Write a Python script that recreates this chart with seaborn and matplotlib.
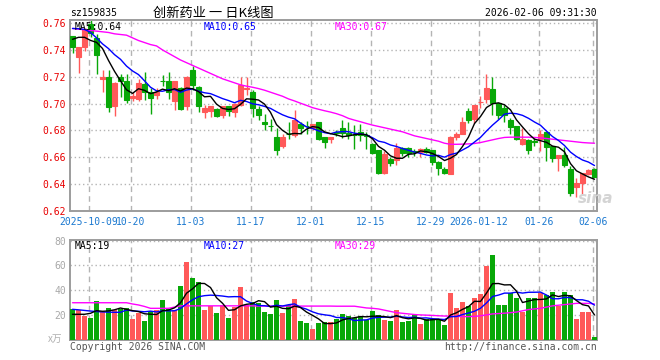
import numpy as np
import pandas as pd
import matplotlib
matplotlib.use("Agg")
import matplotlib.pyplot as plt
import seaborn as sns

# --- données (159835, K journalier) ---
opens = [0.7503, 0.7350, 0.7423, 0.7590, 0.7490, 0.7180, 0.7195, 0.6980, 0.7195, 0.7170,
         0.7043, 0.7035, 0.7145, 0.7090, 0.7065, 0.7170, 0.7170, 0.7020, 0.7113, 0.6980,
         0.7250, 0.7125, 0.6935, 0.6944, 0.6957, 0.6913, 0.6980, 0.6940, 0.6990, 0.7110,
         0.7088, 0.6957, 0.6865, 0.6836, 0.6752, 0.6683, 0.6775, 0.6765, 0.6850, 0.6835,
         0.6815, 0.6864, 0.6748, 0.6733, 0.6787, 0.6815, 0.6782, 0.6767, 0.6788, 0.6765,
         0.6700, 0.6653, 0.6481, 0.6585, 0.6583, 0.6670, 0.6673, 0.6645, 0.6640, 0.6665,
         0.6653, 0.6566, 0.6516, 0.6479, 0.6752, 0.6777, 0.6946, 0.6889, 0.7010, 0.7038,
         0.7106, 0.7003, 0.6970, 0.6877, 0.6832, 0.6698, 0.6727, 0.6718, 0.6735, 0.6785,
         0.6683, 0.6597, 0.6616, 0.6510, 0.6380, 0.6407, 0.6478, 0.6516]
highs = [0.7505, 0.7425, 0.7563, 0.7620, 0.7520, 0.7250, 0.7250, 0.7160, 0.7220, 0.7220,
         0.7090, 0.7180, 0.7235, 0.7115, 0.7115, 0.7212, 0.7237, 0.7170, 0.7125, 0.7205,
         0.7280, 0.7135, 0.6990, 0.6985, 0.6970, 0.6985, 0.6985, 0.7005, 0.7200, 0.7200,
         0.7100, 0.6985, 0.6920, 0.6886, 0.6815, 0.6775, 0.6864, 0.6950, 0.6865, 0.6868,
         0.6850, 0.6866, 0.6755, 0.6755, 0.6800, 0.6877, 0.6864, 0.6839, 0.6845, 0.6785,
         0.6705, 0.6655, 0.6645, 0.6605, 0.6707, 0.6678, 0.6678, 0.6665, 0.6668, 0.6675,
         0.6655, 0.6570, 0.6525, 0.6757, 0.6785, 0.6902, 0.6964, 0.6990, 0.7056, 0.7220,
         0.7195, 0.7005, 0.6990, 0.6890, 0.6836, 0.6815, 0.6735, 0.6745, 0.6802, 0.6790,
         0.6685, 0.6618, 0.6677, 0.6535, 0.6445, 0.6485, 0.6516, 0.6520]
lows = [0.7380, 0.7230, 0.7394, 0.7500, 0.7220, 0.7090, 0.6940, 0.6910, 0.7050, 0.7005,
        0.7020, 0.7020, 0.7030, 0.6925, 0.7035, 0.7130, 0.7035, 0.6950, 0.6950, 0.6950,
        0.7105, 0.6935, 0.6895, 0.6900, 0.6900, 0.6895, 0.6905, 0.6897, 0.6985, 0.7065,
        0.6902, 0.6875, 0.6800, 0.6796, 0.6615, 0.6670, 0.6733, 0.6755, 0.6770, 0.6775,
        0.6800, 0.6730, 0.6673, 0.6705, 0.6760, 0.6742, 0.6740, 0.6665, 0.6725, 0.6665,
        0.6625, 0.6474, 0.6478, 0.6533, 0.6541, 0.6607, 0.6604, 0.6610, 0.6605, 0.6630,
        0.6541, 0.6466, 0.6475, 0.6475, 0.6730, 0.6770, 0.6857, 0.6852, 0.6964, 0.7001,
        0.6914, 0.6885, 0.6865, 0.6772, 0.6730, 0.6695, 0.6628, 0.6685, 0.6645, 0.6570,
        0.6566, 0.6500, 0.6525, 0.6310, 0.6305, 0.6330, 0.6467, 0.6450]
closes = [0.7423, 0.7423, 0.7553, 0.7523, 0.7360, 0.7195, 0.6976, 0.7150, 0.7170, 0.7025,
          0.7060, 0.7150, 0.7090, 0.7045, 0.7090, 0.7165, 0.7090, 0.7165, 0.6962, 0.7197,
          0.7140, 0.6985, 0.6970, 0.6980, 0.6907, 0.6980, 0.6944, 0.7000, 0.7140, 0.7115,
          0.6965, 0.6915, 0.6847, 0.6832, 0.6658, 0.6752, 0.6770, 0.6877, 0.6820, 0.6830,
          0.6847, 0.6740, 0.6712, 0.6752, 0.6783, 0.6782, 0.6767, 0.6763, 0.6768, 0.6760,
          0.6633, 0.6483, 0.6621, 0.6558, 0.6670, 0.6632, 0.6633, 0.6638, 0.6665, 0.6640,
          0.6566, 0.6524, 0.6485, 0.6752, 0.6777, 0.6864, 0.6877, 0.6988, 0.7013, 0.7113,
          0.7003, 0.6912, 0.6915, 0.6825, 0.6740, 0.6740, 0.6658, 0.6712, 0.6770, 0.6680,
          0.6598, 0.6616, 0.6541, 0.6332, 0.6410, 0.6482, 0.6504, 0.6455]
volumes = [25.0, 24.2, 19.6, 18.0, 31.4, 22.3, 25.8, 24.1, 25.2, 25.8,
           17.2, 22.0, 15.4, 23.4, 24.5, 32.4, 24.7, 24.5, 43.7, 63.0,
           50.1, 46.6, 24.0, 27.5, 22.0, 27.8, 18.0, 26.5, 42.9, 28.5,
           30.5, 29.8, 22.7, 20.9, 32.1, 21.9, 28.1, 33.4, 15.2, 13.9,
           8.7, 13.9, 14.7, 14.7, 16.7, 20.9, 19.7, 17.7, 19.3, 15.8,
           23.2, 19.8, 16.0, 15.2, 24.1, 14.7, 15.2, 20.0, 12.9, 16.8,
           16.8, 16.8, 12.2, 37.8, 26.1, 30.4, 27.6, 33.9, 37.0, 59.8,
           68.5, 28.2, 28.2, 37.6, 34.1, 22.8, 34.1, 34.1, 38.1, 36.2,
           38.9, 27.7, 38.9, 36.2, 17.0, 22.5, 22.5, 2.7]

# MA30 lue directement (l'historique avant la fenêtre n'est pas visible)
ma30_price = [0.7560, 0.7555, 0.7550, 0.7545, 0.7540, 0.7535, 0.7530, 0.7520, 0.7515, 0.7510,
              0.7490, 0.7470, 0.7455, 0.7440, 0.7430, 0.7400, 0.7375, 0.7350, 0.7325, 0.7305,
              0.7285, 0.7265, 0.7245, 0.7225, 0.7205, 0.7185, 0.7170, 0.7155, 0.7140, 0.7130,
              0.7122, 0.7112, 0.7100, 0.7085, 0.7070, 0.7055, 0.7035, 0.7020, 0.7003, 0.6987,
              0.6970, 0.6958, 0.6947, 0.6937, 0.6925, 0.6910, 0.6890, 0.6877, 0.6865, 0.6852,
              0.6840, 0.6830, 0.6820, 0.6810, 0.6800, 0.6790, 0.6775, 0.6760, 0.6750, 0.6740,
              0.6730, 0.6720, 0.6705, 0.6697, 0.6697, 0.6698, 0.6700, 0.6703, 0.6710, 0.6720,
              0.6730, 0.6740, 0.6748, 0.6750, 0.6750, 0.6750, 0.6750, 0.6748, 0.6745, 0.6740,
              0.6735, 0.6730, 0.6725, 0.6720, 0.6715, 0.6710, 0.6707, 0.6705]
ma30_vol = [30.0, 30.0, 30.0, 30.0, 30.0, 30.0, 30.0, 30.0, 30.0, 30.0,
            29.0, 28.2, 27.0, 25.5, 25.5, 25.5, 25.5, 26.5, 27.5, 27.5,
            27.5, 27.5, 27.5, 27.5, 27.5, 27.5, 27.5, 27.5, 27.5, 27.5,
            27.5, 27.3, 27.3, 27.3, 27.3, 27.3, 27.3, 27.3, 27.3, 27.3,
            27.3, 27.3, 27.3, 27.3, 27.2, 27.2, 27.2, 27.2, 26.5, 25.8,
            25.5, 25.0, 24.0, 23.0, 22.0, 21.5, 21.0, 20.5, 20.2, 20.0,
            19.8, 19.5, 19.3, 19.2, 19.0, 18.9, 18.8, 19.0, 19.5, 20.2,
            21.0, 21.3, 21.6, 22.0, 22.5, 23.5, 24.5, 25.0, 25.5, 26.5,
            27.5, 28.0, 28.5, 29.0, 29.5, 29.5, 29.5, 29.0]
# début des MA5 / MA10 (fenêtre incomplète)
ma5_head = [0.7479, 0.7494, 0.7494, 0.7471]
ma10_head = [0.7560, 0.7558, 0.7553, 0.7530, 0.7490, 0.7445, 0.7410, 0.7365, 0.7330]
vma5_head = [20.7, 20.7, 20.7, 21.5]
vma10_head = [24.7, 24.3, 23.8, 23.3, 22.9, 22.6, 22.4, 22.3, 22.3]

holidays = ["2025-10-01", "2025-10-02", "2025-10-03", "2025-10-06", "2025-10-07",
            "2025-10-08", "2026-01-01", "2026-01-02"]
tick_dates = ["2025-10-09", "2025-10-20", "2025-11-03", "2025-11-17", "2025-12-01",
              "2025-12-15", "2025-12-29", "2026-01-12", "2026-01-26", "2026-02-06"]
tick_labels = ["2025-10-09", "10-20", "11-03", "11-17", "12-01",
               "12-15", "12-29", "2026-01-12", "01-26", "02-06"]
price_ticks = [0.62, 0.64, 0.66, 0.68, 0.70, 0.72, 0.74, 0.76]
vol_ticks = [20, 40, 60, 80]
price_ma_labels = ["MA5:0.64", "MA10:0.65", "MA30:0.67"]
vol_ma_labels = ["MA5:19", "MA10:27", "MA30:29"]

# --- préparation ---
days = pd.bdate_range("2025-09-26", "2026-02-06")
days = days[~days.isin(pd.to_datetime(holidays))]
df = pd.DataFrame({"date": days, "open": opens, "high": highs, "low": lows,
                   "close": closes, "vol": volumes})
df["x"] = np.arange(len(df))

def moving_avg(s, n, head):
    m = s.rolling(n).mean()
    m.iloc[:len(head)] = head
    return m

df["ma5"] = moving_avg(df["close"], 5, ma5_head)
df["ma10"] = moving_avg(df["close"], 10, ma10_head)
df["ma30"] = ma30_price
df["vma5"] = moving_avg(df["vol"], 5, vma5_head)
df["vma10"] = moving_avg(df["vol"], 10, vma10_head)
df["vma30"] = ma30_vol

RED, GREEN = "#ff5959", "#08a808"
up = df["close"] >= df["open"]
colors = np.where(up, RED, GREEN)
tick_pos = [df.index[df["date"] == pd.Timestamp(d)][0] - 0.3 for d in tick_dates]

# --- figure ---
sns.set_style("white")
plt.rcParams["font.family"] = ["DejaVu Sans Mono"]
grid_c, spine_c = "#b4b4b4", "#9c9c9c"
FS = 7

fig = plt.figure(figsize=(6.6, 3.6), dpi=100)
W, H = 660, 360
ax = fig.add_axes([70 / W, 1 - 211 / H, 527 / W, 191 / H])
axv = fig.add_axes([70 / W, 1 - 340 / H, 527 / W, 100 / H])

# bougies
ax.vlines(df["x"], df["low"], df["high"], colors=colors, lw=1, zorder=2)
ax.bar(df["x"], (df["close"] - df["open"]).abs(), bottom=df[["open", "close"]].min(axis=1),
       width=0.8, color=colors, edgecolor=colors, linewidth=0.8, zorder=3)
sns.lineplot(data=df, x="x", y="ma30", ax=ax, color="#ff00ff", lw=1, zorder=4)
sns.lineplot(data=df, x="x", y="ma10", ax=ax, color="#0000ff", lw=1, zorder=5)
sns.lineplot(data=df, x="x", y="ma5", ax=ax, color="black", lw=1, zorder=6)

# volumes
axv.bar(df["x"], df["vol"], width=0.82, color=colors, linewidth=0, zorder=3)
sns.lineplot(data=df, x="x", y="vma30", ax=axv, color="#ff00ff", lw=1, zorder=4)
sns.lineplot(data=df, x="x", y="vma10", ax=axv, color="#0000ff", lw=1, zorder=5)
sns.lineplot(data=df, x="x", y="vma5", ax=axv, color="black", lw=1, zorder=6)

for a in (ax, axv):
    a.set_xlim(-0.42, 87.42)
    a.set_xticks(tick_pos)
    a.set_xlabel("")
    a.set_ylabel("")
    a.grid(axis="x", color=grid_c, linestyle=(0, (4, 3)), lw=1)
    a.grid(axis="y", color=grid_c, linestyle=(0, (1, 2)), lw=1)
    a.set_axisbelow(True)
    a.tick_params(length=0)
    for s in a.spines.values():
        s.set_color(spine_c)
        s.set_linewidth(1.4)

ax.set_ylim(0.62, 0.7623)
ax.set_yticks(price_ticks)
ax.set_yticklabels([f"{v:.2f}" for v in price_ticks], color="#e80000", fontsize=FS)
ax.set_xticklabels(tick_labels, color="#1a78d0", fontsize=FS)
ax.tick_params(axis="y", pad=3)
ax.tick_params(axis="x", pad=4)

axv.set_ylim(0, 80.5)
axv.set_yticks(vol_ticks)
axv.set_yticklabels([str(v) for v in vol_ticks], color="#a8a8a8", fontsize=FS)
axv.set_xticklabels([])
axv.tick_params(axis="y", pad=3)

# textes
def px_text(x, y, s, **kw):
    fig.text(x / W, 1 - y / H, s, va="center", **kw)

px_text(70, 13, "sz159835", fontsize=FS, color="black")
px_text(213, 13, "创新药业 一 日K线图", fontsize=9.5, ha="center", color="black",
        family=["Noto Sans CJK SC", "DejaVu Sans"])
px_text(597, 13, "2026-02-06 09:31:30", fontsize=FS, ha="right", color="black")

ma_cols = ["black", "#0000ff", "#ff00ff"]
for xp, lab, c in zip([75, 204, 335], price_ma_labels, ma_cols):
    px_text(xp, 27, lab, fontsize=FS, color=c)
for xp, lab, c in zip([75, 204, 335], vol_ma_labels, ma_cols):
    px_text(xp, 246, lab, fontsize=FS, color=c)

px_text(70, 347, "Copyright 2026 SINA.COM", fontsize=FS, color="#555555")
px_text(597, 347, "http://finance.sina.com.cn", fontsize=FS, ha="right", color="#555555")
px_text(48, 339, "x万", fontsize=7, color="#b0b0b0", family=["Noto Sans CJK SC", "DejaVu Sans"])
px_text(578, 198, "sina", fontsize=11, color="#d4d4d4", weight="bold", style="italic",
        family=["DejaVu Sans"])

fig.savefig("out.png", dpi=100)
